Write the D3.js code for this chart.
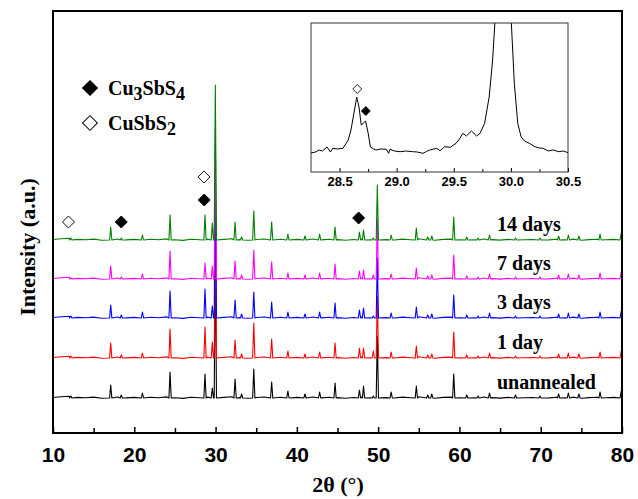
<!DOCTYPE html>
<meta charset="utf-8">
<head>
    <title>XRD patterns</title>
    <script src="https://cdn.jsdelivr.net/npm/d3@7"></script>
</head>

<style>
    body { margin: 0; background: #fff; }
    .tick text { font-family: Arial, "Liberation Sans", sans-serif; font-weight: bold; }
    .serif { font-family: "Times New Roman", "Liberation Serif", serif; font-weight: bold; }
</style>

<svg></svg>

<script>
    // chart data
    var seriesNames = ["unannealed", "1 day", "3 days", "7 days", "14 days"];
    var seriesOffsets = [0, 40, 80, 119, 158];
    var seriesColors = ["#000000", "#ff0000", "#0000ff", "#ff00ff", "#008000"];

    // peak positions (2theta) and heights for each sample
    var peakPos   = [12.2, 17.1, 18.4, 21.0, 24.4, 28.7, 29.6, 29.97, 32.4, 33.2, 34.7, 36.9, 38.9, 41.0, 42.8, 44.7, 47.7, 48.2, 49.4, 49.9, 51.6, 54.7, 56.1, 56.6, 59.3, 60.9, 62.3, 63.7, 66.9, 69.9, 72.2, 73.4, 74.7, 77.3, 79.9];
    var hUnannealed = [2, 13, 3, 5, 26, 24, 10, 150, 19, 4, 29, 16, 7, 4, 6, 15, 8, 12, 2, 62, 6, 12, 3, 4, 24, 3, 2, 5, 3, 2, 4, 5, 4, 6, 7];
    var h1day       = [2, 15, 3, 5, 29, 31, 16, 150, 18, 4, 35, 19, 7, 4, 6, 15, 10, 10, 7, 62, 6, 12, 3, 4, 26, 3, 2, 5, 2, 2, 4, 5, 4, 6, 7];
    var h3days      = [2, 13, 3, 6, 27, 29, 12, 150, 18, 4, 26, 16, 6, 4, 6, 15, 8, 10, 2, 60, 5, 11, 3, 4, 23, 3, 2, 5, 2, 2, 4, 5, 4, 6, 7];
    var h7days      = [1, 13, 2, 5, 28, 16, 13, 150, 18, 4, 29, 17, 6, 4, 6, 15, 8, 9, 4, 60, 5, 11, 3, 4, 24, 3, 2, 5, 2, 2, 4, 5, 4, 6, 7];
    var h14days     = [2, 13, 2, 5, 25, 25, 17, 155, 18, 3, 29, 18, 6, 4, 6, 13, 8, 10, 2, 55, 5, 12, 3, 4, 23, 3, 2, 5, 2, 2, 4, 5, 4, 6, 7];
    var seriesHeights = [hUnannealed, h1day, h3days, h7days, h14days];

    // background wiggle, one value per degree from 10 to 80
    var bgNoise = [0.5, 1.2, 1.8, 0.6, 0.2, 0.9, -0.3, 0.4, 1.0, 0.1, 0.6, -0.2, 0.8, 0.3, 1.1, 0.2, -0.4, 0.7, 0.3, 0.9,
                   0.0, 0.6, 1.2, 0.4, -0.2, 0.5, 1.0, 0.2, 0.8, -0.1, 0.6, 0.3, 1.0, 0.1, 0.7, 0.4, -0.3, 0.5, 1.1, 0.2,
                   0.8, 0.4, 0.0, 0.9, 0.3, 1.2, 0.5, -0.2, 0.6, 0.9, 0.2, 0.7, 0.1, 1.0, 0.4, -0.1, 0.6, 0.8, 0.2, 0.5,
                   1.0, 0.1, 0.7, 0.3, 0.9, -0.2, 0.4, 0.8, 0.3, 0.6, 0.9];

    // phase markers: 2theta, height above the bottom baseline, filled?
    var markPos    = [11.9, 18.4, 28.57, 28.6, 47.6];
    var markHeight = [176, 176, 221, 198, 180];
    var markFilled = [false, true, false, true, true];

    // inset trace (2theta, intensity)
    var insetTheta = [28.25, 28.29, 28.32, 28.35, 28.39, 28.42, 28.44, 28.48, 28.53, 28.576, 28.60, 28.62, 28.65, 28.67, 28.69, 28.71, 28.728, 28.75, 28.77, 28.80, 28.82, 28.86, 28.91, 28.93, 28.94, 28.98, 29.03, 29.08, 29.14, 29.18, 29.23, 29.26, 29.29, 29.35, 29.38, 29.42, 29.47, 29.52, 29.55, 29.58, 29.61, 29.655, 29.70, 29.73, 29.77, 29.81, 29.84, 29.86, 29.93, 30.004, 30.03, 30.06, 30.09, 30.12, 30.16, 30.21, 30.25, 30.28, 30.33, 30.37, 30.42, 30.46, 30.5];
    var insetInt   = [7, 8, 10, 9, 13, 8, 11.7, 11, 11.7, 20, 30, 43, 63, 53, 35, 37, 39, 27, 13, 11, 10, 11, 10.7, 6.7, 10.7, 9, 8.3, 9, 8.3, 8, 6.7, 8.5, 10, 11.7, 9.3, 13.3, 12.7, 16.7, 21, 26.7, 24, 29, 24, 26.7, 36.7, 63, 100, 137, 400, 137, 76.7, 36.7, 23, 19, 16.7, 13.3, 12, 11.7, 9, 10, 8.3, 9, 7.3];
    var insetMarkPos    = [28.655, 28.73];
    var insetMarkHeight = [71, 49];
    var insetMarkFilled = [false, true];

    var xTicks = [10, 20, 30, 40, 50, 60, 70, 80];
    var xMinorTicks = [15, 25, 35, 45, 55, 65, 75];
    var insetTicks = [28.5, 29.0, 29.5, 30.0, 30.5];
    var insetMinorTicks = [28.75, 29.25, 29.75, 30.25];

    // sizes
    var vWidth = 638;
    var vHeight = 499;
    var peakHalf = 0.14;

    var svg = d3.select('svg')
        .attr('width', vWidth)
        .attr('height', vHeight);

    var x = d3.scaleLinear().domain([10, 80]).range([53, 622]);
    var y = d3.scaleLinear().domain([-35, 387]).range([433, 11]);

    svg.append('clipPath').attr('id', 'mainClip')
        .append('rect').attr('x', 53).attr('y', 11).attr('width', 569).attr('height', 422);

    // build the point list of each pattern from the peak table
    function buildPoints(heights) {
        var pts = [];
        bgNoise.forEach(function (v, i) {
            var t = 10 + i;
            var near = peakPos.some(function (p) { return Math.abs(p - t) < peakHalf + 0.05; });
            if (!near) pts.push([t, v]);
        });
        peakPos.forEach(function (p, i) {
            pts.push([p - peakHalf, 0]);
            pts.push([p, heights[i]]);
            if (p + peakHalf <= 80) pts.push([p + peakHalf, 0]);
        });
        pts.sort(function (a, b) { return a[0] - b[0]; });
        return pts;
    }

    var gLines = svg.append('g').attr('clip-path', 'url(#mainClip)');

    seriesNames.forEach(function (name, si) {
        var pts = buildPoints(seriesHeights[si]);
        var line = d3.line()
            .x(function (d) { return x(d[0]); })
            .y(function (d) { return y(d[1] + seriesOffsets[si]); });
        gLines.append('path')
            .datum(pts)
            .attr('d', line)
            .attr('fill', 'none')
            .attr('stroke', seriesColors[si])
            .attr('stroke-width', 1.1)
            .attr('stroke-linejoin', 'round');
    });

    // sample labels
    svg.selectAll('.slabel').data(seriesNames).enter()
        .append('text')
        .attr('class', 'serif slabel')
        .attr('x', 497)
        .attr('y', function (d, i) { return y(seriesOffsets[i] + 9); })
        .attr('font-size', 20)
        .text(function (d) { return d; });

    // phase markers
    var diamond = function (s) { return d3.symbol().type(d3.symbolSquare).size(s)(); };
    svg.selectAll('.mark').data(markPos).enter()
        .append('path')
        .attr('d', diamond(72))
        .attr('transform', function (d, i) { return 'translate(' + x(d) + ',' + y(markHeight[i]) + ') rotate(45)'; })
        .attr('fill', function (d, i) { return markFilled[i] ? '#000' : '#fff'; })
        .attr('stroke', '#000')
        .attr('stroke-width', 0.9);

    // legend
    var legend = svg.append('g');
    [['Cu', '3', 'SbS', '4'], ['CuSbS', '2']].forEach(function (parts, i) {
        var ly = 88 + i * 35;
        legend.append('path')
            .attr('d', diamond(110))
            .attr('transform', 'translate(90,' + ly + ') rotate(45)')
            .attr('fill', i === 0 ? '#000' : '#fff')
            .attr('stroke', '#000')
            .attr('stroke-width', 1);
        var t = legend.append('text').attr('class', 'serif').attr('x', 108).attr('y', ly + 7).attr('font-size', 20);
        parts.forEach(function (p, k) {
            var sub = k % 2 === 1;
            t.append('tspan')
                .attr('font-size', sub ? 18 : 20)
                .attr('dy', sub ? 5 : (k > 0 ? -5 : 0))
                .text(p);
        });
    });

    // x axis (ticks inside)
    var gx = svg.append('g').attr('transform', 'translate(0,433)')
        .call(d3.axisBottom(x).tickValues(xTicks).tickSizeInner(-6).tickSizeOuter(0).tickPadding(14));
    gx.selectAll('text').attr('font-size', 21);
    gx.select('.domain').remove();
    gx.selectAll('line').attr('stroke-width', 1.5);
    var gxm = svg.append('g').attr('transform', 'translate(0,433)')
        .call(d3.axisBottom(x).tickValues(xMinorTicks).tickSizeInner(-5).tickSizeOuter(0).tickFormat(''));
    gxm.select('.domain').remove();
    gxm.selectAll('line').attr('stroke-width', 1.5);

    // frame
    svg.append('rect')
        .attr('x', 53).attr('y', 11).attr('width', 569).attr('height', 422)
        .attr('fill', 'none').attr('stroke', '#000').attr('stroke-width', 2);

    // axis titles
    svg.append('text').attr('class', 'serif')
        .attr('x', 338).attr('y', 492)
        .attr('text-anchor', 'middle').attr('font-size', 22)
        .text('2θ (°)');
    svg.append('text').attr('class', 'serif')
        .attr('transform', 'translate(35,247) rotate(-90)')
        .attr('text-anchor', 'middle').attr('font-size', 22)
        .text('Intensity (a.u.)');

    // inset
    var xi = d3.scaleLinear().domain([28.25, 30.5]).range([311, 568]);
    var yi = d3.scaleLinear().domain([0, 140]).range([160, 20]);
    var inset = svg.append('g');
    inset.append('rect').attr('x', 311).attr('y', 23).attr('width', 257).attr('height', 149).attr('fill', '#fff');
    svg.append('clipPath').attr('id', 'insetClip')
        .append('rect').attr('x', 311).attr('y', 23).attr('width', 257).attr('height', 149);
    inset.append('path')
        .datum(insetTheta.map(function (t, i) { return [t, insetInt[i]]; }))
        .attr('clip-path', 'url(#insetClip)')
        .attr('d', d3.line().x(function (d) { return xi(d[0]); }).y(function (d) { return yi(d[1]); }))
        .attr('fill', 'none').attr('stroke', '#000').attr('stroke-width', 1);
    inset.selectAll('.imark').data(insetMarkPos).enter()
        .append('path')
        .attr('d', diamond(40))
        .attr('transform', function (d, i) { return 'translate(' + xi(d) + ',' + yi(insetMarkHeight[i]) + ') rotate(45)'; })
        .attr('fill', function (d, i) { return insetMarkFilled[i] ? '#000' : '#fff'; })
        .attr('stroke', '#000').attr('stroke-width', 0.8);
    var gxi = inset.append('g').attr('transform', 'translate(0,172)')
        .call(d3.axisBottom(xi).tickValues(insetTicks).tickSizeInner(-4).tickSizeOuter(0).tickPadding(5).tickFormat(d3.format('.1f')));
    gxi.select('.domain').remove();
    gxi.selectAll('text').attr('font-size', 13);
    var gxim = inset.append('g').attr('transform', 'translate(0,172)')
        .call(d3.axisBottom(xi).tickValues(insetMinorTicks).tickSizeInner(-3).tickSizeOuter(0).tickFormat(''));
    gxim.select('.domain').remove();
    inset.append('rect').attr('x', 311).attr('y', 23).attr('width', 257).attr('height', 149)
        .attr('fill', 'none').attr('stroke', '#333').attr('stroke-width', 1);
</script>
